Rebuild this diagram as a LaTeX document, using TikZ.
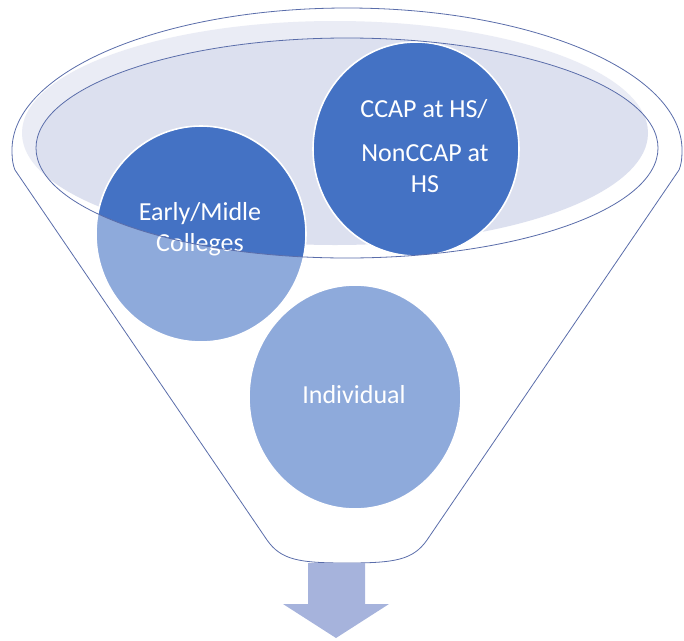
\documentclass[tikz,border=0pt]{standalone}
\usepackage{fontspec}
\setmainfont{Carlito}
\usetikzlibrary{shapes.geometric}
\definecolor{darkblue}{HTML}{4472C4}
\definecolor{rimline}{HTML}{5A6DAA}
\definecolor{bowlfill}{HTML}{DCE0EF}
\definecolor{arrowfill}{HTML}{A6B3DC}
\newcommand\funnelpath{(12,150) arc[start angle=180, end angle=0, x radius=335pt, y radius=142pt]
  .. controls (682,160) and (681,165) .. (679,170) -- (427,540)
  .. controls (413,560) and (395,563) .. (347,563)
  .. controls (299,563) and (281,560) .. (267,540) -- (15,170)
  .. controls (13,165) and (12,160) .. (12,150) -- cycle}
\tikzset{
  bubble/.style={ellipse, draw=white, line width=1.6pt, fill=darkblue, inner sep=0pt},
  label/.style={text=white, font=\fontsize{26}{30}\selectfont, anchor=base},
  outline/.style={draw=rimline, line width=0.8pt}
}
\begin{document}
\begin{tikzpicture}[x=1pt, y=-1pt]
\useasboundingbox (0,0) rectangle (684,640);
% funnel body
\fill[white] \funnelpath;
% bowl fill
\fill[bowlfill] (335,133) ellipse[x radius=313pt, y radius=112pt];
% circles
\node[bubble, minimum width=206pt, minimum height=214pt] (ccap) at (416,149) {};
\node[bubble, minimum width=210pt, minimum height=216pt] (early) at (201,234) {};
\node[bubble, minimum width=212pt, minimum height=224pt] (indiv) at (355,397) {};
% texts
\node[label] (t1) at (424,117) {CCAP at HS/};
\node[label] (t2) at (425,161) {NonCCAP at};
\node[label] (t3) at (425,192) {HS};
\node[label] (t4) at (200,220) {Early/Midle};
\node[label] (t5) at (200,251) {Colleges};
\node[label] (t6) at (354,403) {Individual};
% translucent funnel body over the circles
\fill[white, fill opacity=0.4, even odd rule] \funnelpath (347,148) ellipse[x radius=311pt, y radius=110pt];
% outlines
\draw[outline] \funnelpath;
\draw[outline] (347,148) ellipse[x radius=311pt, y radius=110pt];
% arrow
\fill[arrowfill] (308,563) -- (365,563) -- (365,604) -- (389,604) -- (336,638) -- (283,604) -- (308,604) -- cycle;
\end{tikzpicture}
\end{document}
